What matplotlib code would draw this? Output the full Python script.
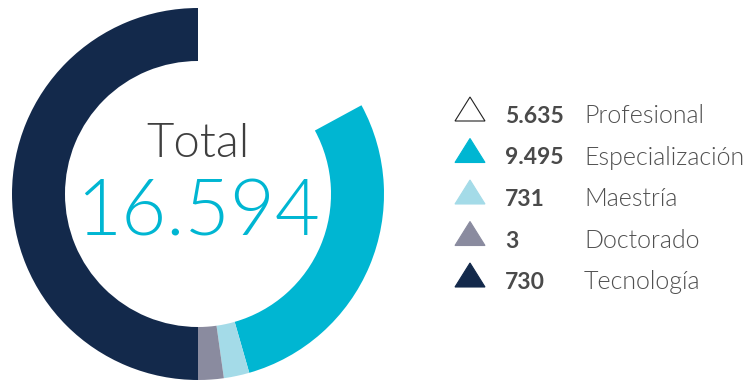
import matplotlib
matplotlib.use("Agg")
import matplotlib.pyplot as plt

# categories, counts shown in the legend, and the arc each occupies on the ring (degrees)
levels = ["Profesional", "Especialización", "Maestría", "Doctorado", "Tecnología"]
counts = ["5.635", "9.495", "731", "3", "730"]
arc_deg = [61.5, 102.5, 8.0, 8.0, 180.0]
total_label = "16.594"
colors = ["#ffffff", "#00b6d2", "#a4dbe8", "#8a8b9f", "#13294b"]

W, H = 752, 382
fig = plt.figure(figsize=(W / 100, H / 100), dpi=100)
ax = fig.add_axes([0, 0, 1, 1])

cx, cy, r_out, ring = 198, 188, 186, 53
ax.pie(arc_deg, colors=colors, startangle=90, counterclock=False,
       center=(cx, cy), radius=r_out, wedgeprops=dict(width=ring, linewidth=0))

ax.set_xlim(0, W); ax.set_ylim(0, H)
ax.set_aspect("equal"); ax.axis("off")

ax.text(cx, 225, "Total", ha="center", va="baseline", fontsize=34,
        family="Lato", weight=300, color="#3f3f3f")
ax.text(cx, 147, total_label, ha="center", va="baseline", fontsize=56,
        family="Lato", weight=300, color="#00b6d2")

# legend rows: triangle glyph, bold count, level name
for i, (name, n, c) in enumerate(zip(levels, counts, colors)):
    base = 259 - 41.5 * i
    tx, ty = 470, base + 14
    ax.fill([tx - 15, tx + 15, tx], [ty - 12, ty - 12, ty + 12],
            facecolor=c, edgecolor="#222222" if c == "#ffffff" else c, lw=0.8)
    ax.text(505, base, n, ha="left", va="baseline", fontsize=16.5,
            family="Lato", weight="bold", color="#4a4a4a")
    ax.text(584, base, name, ha="left", va="baseline", fontsize=18,
            family="Lato", weight=300, color="#505050")

fig.savefig("out.png", dpi=100)
